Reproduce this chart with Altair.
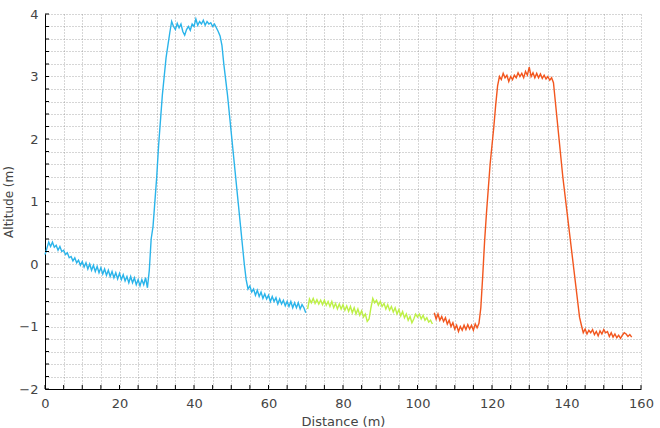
import altair as alt
import pandas as pd

STEP = 0.5

blue_start = 0.0
blue_alt = [0.15, 0.25, 0.35, 0.28, 0.35, 0.27, 0.3, 0.22, 0.28, 0.2,
            0.22, 0.15, 0.18, 0.1, 0.12, 0.05, 0.1, 0.02, 0.06, -0.02,
            0.04, -0.05, 0.02, -0.08, 0.0, -0.1, -0.02, -0.12, -0.04, -0.14,
            -0.06, -0.16, -0.08, -0.18, -0.1, -0.2, -0.12, -0.22, -0.14, -0.24,
            -0.15, -0.25, -0.17, -0.27, -0.2, -0.3, -0.2, -0.3, -0.22, -0.33,
            -0.25, -0.35, -0.25, -0.33, -0.22, -0.38, -0.1, 0.4, 0.6, 1.0,
            1.4, 1.9, 2.3, 2.7, 3.0, 3.3, 3.5, 3.7, 3.88, 3.8,
            3.75, 3.85, 3.78, 3.84, 3.72, 3.66, 3.75, 3.8, 3.74, 3.84,
            3.8, 3.92, 3.82, 3.88, 3.84, 3.9, 3.82, 3.88, 3.84, 3.86,
            3.8, 3.84, 3.78, 3.72, 3.65, 3.5, 3.2, 2.95, 2.7, 2.4,
            2.1, 1.8, 1.5, 1.2, 0.9, 0.6, 0.3, 0.0, -0.25, -0.4,
            -0.35, -0.45, -0.4, -0.5, -0.42, -0.52, -0.45, -0.55, -0.48, -0.56,
            -0.5, -0.6, -0.52, -0.6, -0.54, -0.64, -0.56, -0.64, -0.58, -0.67,
            -0.6, -0.68, -0.6, -0.7, -0.62, -0.7, -0.62, -0.72, -0.65, -0.7,
            -0.78]

green_start = 70.5
green_alt = [-0.72, -0.56, -0.62, -0.55, -0.63, -0.57, -0.64, -0.58, -0.65, -0.58,
             -0.66, -0.6, -0.68, -0.6, -0.7, -0.63, -0.72, -0.64, -0.72, -0.65,
             -0.74, -0.67, -0.76, -0.68, -0.78, -0.7, -0.8, -0.72, -0.82, -0.75,
             -0.85, -0.8, -0.92, -0.88, -0.7, -0.55, -0.62, -0.58, -0.66, -0.6,
             -0.68, -0.63, -0.72, -0.65, -0.74, -0.68, -0.77, -0.7, -0.8, -0.73,
             -0.83, -0.76, -0.86, -0.8, -0.9, -0.84, -0.94, -0.88, -0.8, -0.85,
             -0.8, -0.88, -0.82, -0.9, -0.86, -0.93, -0.9, -0.96]

orange_start = 104.5
orange_alt = [-0.78, -0.88, -0.8, -0.9, -0.84, -0.92, -0.86, -0.96, -0.9, -1.0,
              -0.94, -1.04, -0.98, -1.08, -1.0, -1.06, -0.98, -1.05, -0.97, -1.04,
              -0.98, -1.06, -0.96, -1.02, -0.95, -0.7, -0.2, 0.35, 0.8, 1.2,
              1.6, 1.9, 2.2, 2.55, 2.85, 3.0, 2.95, 3.05, 2.98, 3.02,
              2.92, 3.0, 2.95, 3.02, 2.98, 3.06, 3.0, 3.05, 2.98, 3.08,
              3.02, 3.15, 3.0, 3.06, 2.98, 3.05, 2.98, 3.04, 2.97, 3.02,
              2.96, 3.0, 2.94, 2.98, 2.9, 2.6, 2.3, 2.0, 1.7, 1.4,
              1.15, 0.9, 0.65, 0.4, 0.15, -0.1, -0.35, -0.6, -0.85, -0.98,
              -1.1, -1.04, -1.12, -1.06, -1.1, -1.05, -1.13, -1.08, -1.15, -1.07,
              -1.12, -1.05, -1.1, -1.08, -1.16, -1.1, -1.17, -1.12, -1.18, -1.14,
              -1.19, -1.14, -1.1, -1.12, -1.16, -1.13, -1.17]

segments = ["blue", "green", "orange"]
seg_colors = ["#2ab4ea", "#bdf046", "#f2561e"]

x_ticks = list(range(0, 161, 5))
y_ticks = [round(-2 + 0.2 * i, 1) for i in range(31)]

rows = []
for seg, start, vals in zip(segments, [blue_start, green_start, orange_start],
                            [blue_alt, green_alt, orange_alt]):
    for i, v in enumerate(vals):
        rows.append({"d": start + STEP * i, "alt": v, "seg": seg})
df = pd.DataFrame(rows)

W, H = 596, 375

xscale = alt.Scale(domain=[0, 160], nice=False, zero=False)
yscale = alt.Scale(domain=[-2, 4], nice=False, zero=False)

x_axis = alt.Axis(values=x_ticks, title="Distance (m)",
                  labelExpr="datum.value % 20 == 0 ? datum.label : ''",
                  labelFlush=False, labelPadding=8, titlePadding=5)
y_axis = alt.Axis(values=y_ticks, title="Altitude (m)",
                  labelExpr="abs(datum.value - round(datum.value)) < 0.001 ? format(round(datum.value), 'd') : ''",
                  labelPadding=7, titlePadding=3, titleFontSize=12)

lines = alt.Chart(df).mark_line(strokeWidth=1.4).encode(
    x=alt.X("d:Q", scale=xscale, axis=x_axis),
    y=alt.Y("alt:Q", scale=yscale, axis=y_axis),
    color=alt.Color("seg:N", scale=alt.Scale(domain=segments, range=seg_colors), legend=None),
    detail="seg:N",
)

xt = alt.Chart(pd.DataFrame({"v": x_ticks})).mark_rule(color="black", strokeWidth=1).encode(
    x=alt.X("v:Q", scale=xscale, axis=x_axis),
    y=alt.value(H),
    y2=alt.value(H - 4),
)

yt = alt.Chart(pd.DataFrame({"v": y_ticks})).mark_rule(color="black", strokeWidth=1).encode(
    y=alt.Y("v:Q", scale=yscale, axis=y_axis),
    x=alt.value(0),
    x2=alt.value(4),
)

chart = alt.layer(lines, xt, yt).properties(
    width=W, height=H,
    padding={"left": 45, "top": 14, "right": 19, "bottom": 39},
    autosize=alt.AutoSizeParams(type="none"),
).configure_view(stroke=None).configure_axis(
    domainColor="black", domainWidth=1,
    ticks=False,
    grid=True, gridColor="#777", gridDash=[1, 2], gridWidth=1, gridOpacity=0.6,
    labelFont="DejaVu Sans", labelFontSize=13, labelColor="#444",
    titleFont="DejaVu Sans", titleFontSize=13, titleFontWeight="normal", titleColor="#444",
)

chart.save("out.html", embed_options={"renderer": "svg", "actions": False})
